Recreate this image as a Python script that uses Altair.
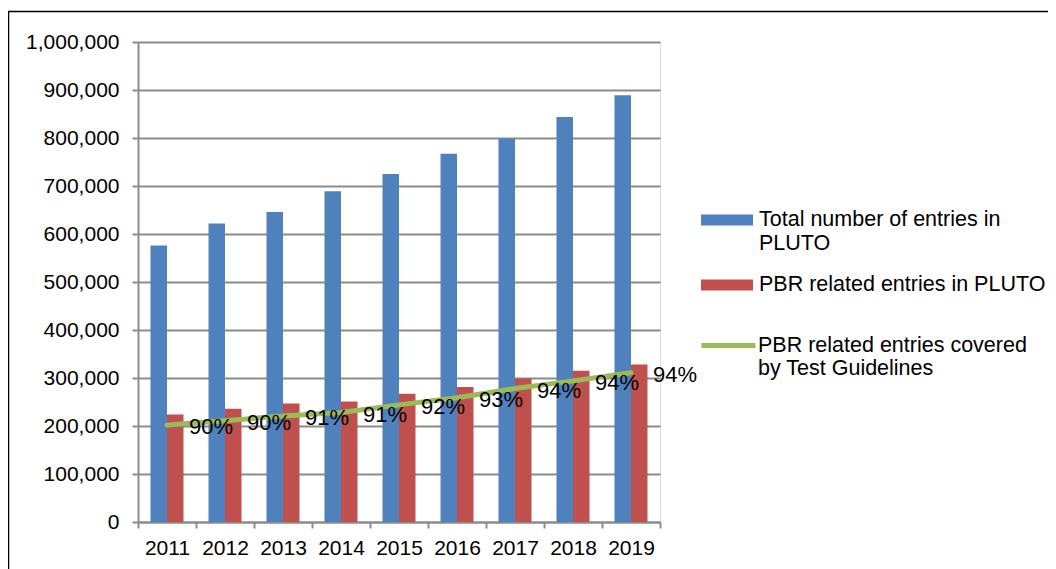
import altair as alt
import pandas as pd

years = ['2011', '2012', '2013', '2014', '2015', '2016', '2017', '2018', '2019']
total_entries = [576000, 622000, 646000, 689000, 725000, 767000, 799000, 844000, 889000]
pbr_entries = [224000, 236000, 247000, 251000, 267000, 281000, 299000, 315000, 328000]
covered_entries = [202000, 211000, 221000, 228000, 244000, 259000, 278000, 294000, 311000]
covered_labels = ['90%', '90%', '91%', '91%', '92%', '93%', '94%', '94%', '94%']
y_ticks = [0, 100000, 200000, 300000, 400000, 500000, 600000, 700000, 800000, 900000, 1000000]

s_total = 'Total number of entries in|PLUTO'
s_pbr = 'PBR related entries in PLUTO'
s_cov = 'PBR related entries covered|by Test Guidelines'

FONT = 'Liberation Sans'
GRID = '#8c8c8c'

bars_df = pd.DataFrame({
    'year': years * 2,
    'value': total_entries + pbr_entries,
    'series': [s_total] * len(years) + [s_pbr] * len(years),
})
line_df = pd.DataFrame({
    'year': years,
    'value': covered_entries,
    'label': covered_labels,
    'series': [s_cov] * len(years),
})

x_scale = alt.Scale(domain=years, paddingInner=0, paddingOuter=0)
y_scale = alt.Scale(domain=[0, 1000000])

x_axis = alt.Axis(title=None, tickBand='extent', labelAngle=0, labelFontSize=21, labelFont=FONT,
                  labelColor='black', labelPadding=9, tickSize=6, tickColor=GRID, tickWidth=2,
                  domainColor=GRID, domainWidth=2, grid=False)
y_axis = alt.Axis(title=None, values=y_ticks, format=',d', labelFontSize=21, labelFont=FONT,
                  labelColor='black', labelPadding=13, tickSize=6, tickColor=GRID, tickWidth=2,
                  domainColor=GRID, domainWidth=2, grid=True, gridColor=GRID, gridWidth=2)

bars = alt.Chart(bars_df).mark_bar().encode(
    x=alt.X('year:N', scale=x_scale, axis=x_axis, sort=years),
    xOffset=alt.XOffset('series:N', sort=[s_total, s_pbr],
                        scale=alt.Scale(domain=[s_total, s_pbr], paddingInner=0, paddingOuter=0.758)),
    y=alt.Y('value:Q', scale=y_scale, axis=y_axis),
    fill=alt.Fill('series:N',
                  scale=alt.Scale(domain=[s_total, s_pbr], range=['#4F81BD', '#C0504D']),
                  legend=alt.Legend(title=None, orient='none', legendX=563, legendY=152,
                                    symbolType='M-1,-0.21L1,-0.21L1,0.21L-1,0.21Z',
                                    symbolSize=2704, symbolStrokeWidth=0,
                                    labelExpr="split(datum.label, '|')",
                                    labelFontSize=21.5, labelFont=FONT, labelColor='black',
                                    labelLimit=500, labelOffset=6, rowPadding=5, padding=0)),
)

line = alt.Chart(line_df).mark_line(strokeWidth=5, strokeCap='round', strokeJoin='round').encode(
    x=alt.X('year:N', scale=x_scale, axis=x_axis, sort=years),
    y=alt.Y('value:Q', scale=y_scale, axis=y_axis),
    stroke=alt.Stroke('series:N', scale=alt.Scale(domain=[s_cov], range=['#9BBB59']),
                      legend=alt.Legend(title=None, orient='none', legendX=561, legendY=274,
                                        symbolType='stroke', symbolSize=2916,
                                        symbolStrokeWidth=5,
                                        labelExpr="split(datum.label, '|')",
                                        labelFontSize=21.5, labelFont=FONT, labelColor='black',
                                        labelLimit=500, labelOffset=0, padding=0)),
)

labels = alt.Chart(line_df).mark_text(align='left', baseline='middle', dx=22, dy=2,
                                      fontSize=22, font=FONT, color='black').encode(
    x=alt.X('year:N', scale=x_scale, axis=x_axis, sort=years),
    y=alt.Y('value:Q', scale=y_scale, axis=y_axis),
    text='label:N',
)

frame = alt.Chart(pd.DataFrame({'f': [0]})).mark_rect(filled=False, stroke='black', strokeWidth=1.5).encode(
    x=alt.value(-129.5), x2=alt.value(1300), y=alt.value(-30.5), y2=alt.value(900),
)

chart = alt.layer(bars, line, labels, frame).resolve_scale(fill='independent', stroke='independent').properties(
    width=522, height=480,
    autosize=alt.AutoSizeParams(type='none'),
    padding={'left': 130, 'top': 34, 'right': 388, 'bottom': 47},
).configure_view(strokeWidth=0).configure(background='white')

chart.save('out.html', embed_options={'renderer': 'svg', 'actions': False})
